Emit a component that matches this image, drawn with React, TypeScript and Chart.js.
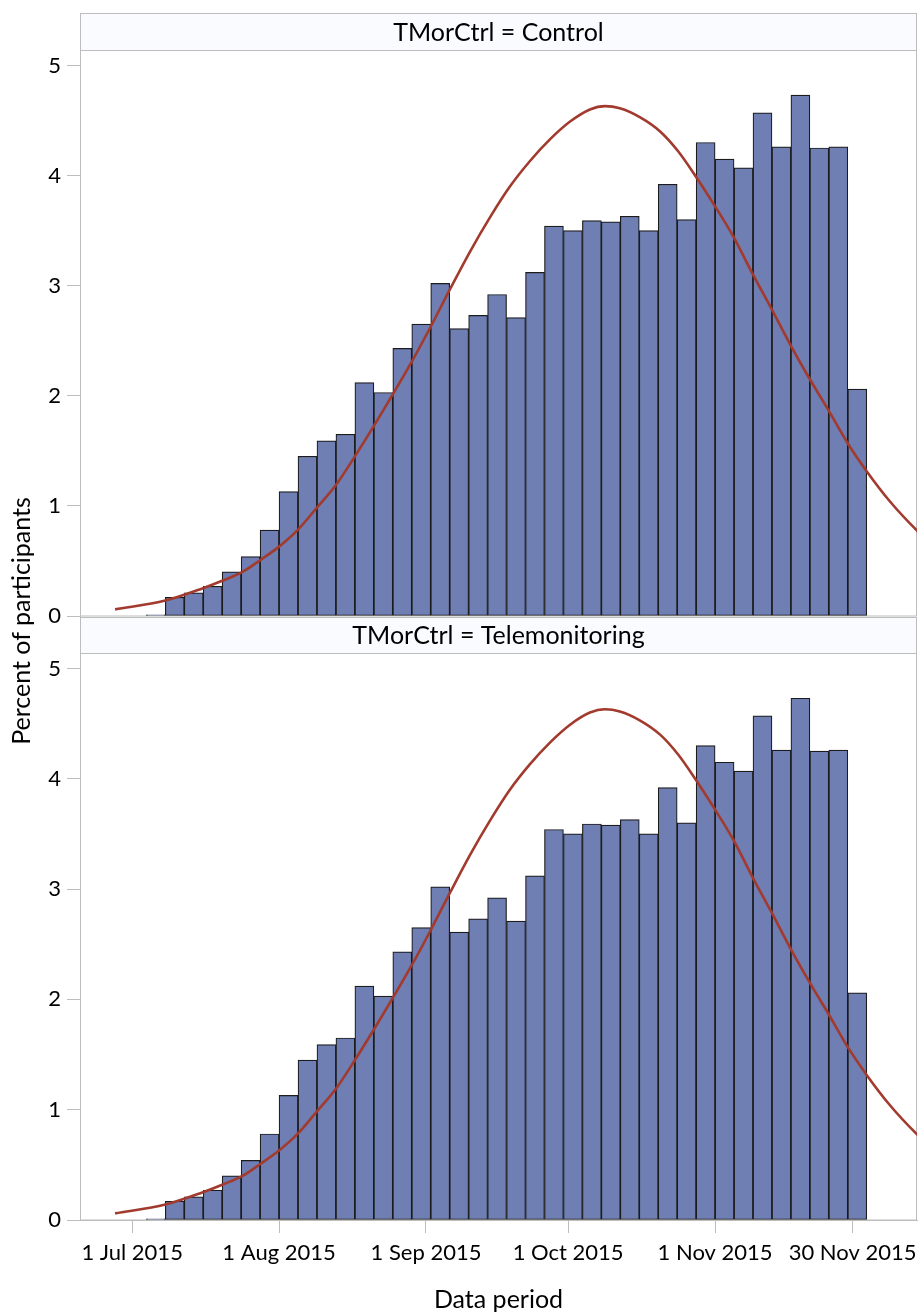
import React, { useEffect, useRef } from "react";
import { Chart, registerables } from "chart.js";

Chart.register(...registerables);

// ---- data (days are counted from 1 Jul 2015) ----
const binMidDays = [5, 9, 13, 17, 21, 25, 29, 33, 37, 41, 45, 49, 53, 57, 61, 65, 69, 73, 77, 81, 85, 89, 93, 97, 101, 105, 109, 113, 117, 121, 125, 129, 133, 137, 141, 145, 149, 153];
const controlPct = [0.01, 0.17, 0.21, 0.27, 0.4, 0.54, 0.78, 1.13, 1.45, 1.59, 1.65, 2.12, 2.03, 2.43, 2.65, 3.02, 2.61, 2.73, 2.92, 2.71, 3.12, 3.54, 3.5, 3.59, 3.58, 3.63, 3.5, 3.92, 3.6, 4.3, 4.15, 4.07, 4.57, 4.26, 4.73, 4.25, 4.26, 2.06];
const telemonitoringPct = [0.01, 0.17, 0.21, 0.27, 0.4, 0.54, 0.78, 1.13, 1.45, 1.59, 1.65, 2.12, 2.03, 2.43, 2.65, 3.02, 2.61, 2.73, 2.92, 2.71, 3.12, 3.54, 3.5, 3.59, 3.58, 3.63, 3.5, 3.92, 3.6, 4.3, 4.15, 4.07, 4.57, 4.26, 4.73, 4.25, 4.26, 2.06];
const curveDays = [-3.6, 7.0, 14.8, 19.0, 23.3, 27.1, 31.0, 34.9, 38.9, 43.0, 47.0, 51.9, 59.0, 62.9, 67.1, 71.3, 75.5, 79.7, 83.9, 88.2, 92.4, 96.6, 99.8, 102.9, 107.1, 111.4, 115.2, 119.1, 123.0, 126.8, 131.0, 134.9, 138.8, 143.0, 146.9, 151.1, 154.9, 159.9, 165.5, 167.0];
const curvePct = [0.06, 0.14, 0.25, 0.32, 0.4, 0.51, 0.63, 0.78, 0.98, 1.19, 1.45, 1.79, 2.31, 2.62, 2.97, 3.31, 3.62, 3.9, 4.13, 4.33, 4.49, 4.6, 4.63, 4.61, 4.53, 4.4, 4.22, 3.98, 3.72, 3.45, 3.1, 2.79, 2.47, 2.15, 1.87, 1.56, 1.32, 1.04, 0.78, 0.72];
const xTickDays = [0, 31, 62, 92, 123, 152];
const xTickLabels = ["1 Jul 2015", "1 Aug 2015", "1 Sep 2015", "1 Oct 2015", "1 Nov 2015", "30 Nov 2015"];
const yTicks = [0, 1, 2, 3, 4, 5];
const panelLabels = ["TMorCtrl = Control", "TMorCtrl = Telemonitoring"];
const xTitle = "Data period";
const yTitle = "Percent of participants";

const FONT = "Lato";
const TICK_SIZE = 22;
const TITLE_SIZE = 25;
const BAR_FILL = "#6F7EB3";
const BAR_EDGE = "#1c1c1c";
const CURVE = "#A23A2E";
const GRAY = "#BDBDBD";
const HEADER_FILL = "#FAFBFE";
const TEXT = "#000000";

const X_MIN = -11;
const X_MAX = 165.6;
const Y_MAX = 5.14;

function headerPlugin(label: string, y0: number) {
  return {
    id: "panelHeader",
    beforeDatasetsDraw(chart: any) {
      const { ctx, chartArea: a } = chart;
      ctx.save();
      ctx.fillStyle = HEADER_FILL;
      ctx.fillRect(a.left, y0, a.right - a.left, a.top - y0);
      ctx.strokeStyle = GRAY;
      ctx.lineWidth = 1;
      ctx.strokeRect(a.left + 0.5, y0 + 0.5, a.right - a.left - 1, a.top - y0);
      ctx.fillStyle = TEXT;
      ctx.font = `${TITLE_SIZE}px ${FONT}`;
      ctx.textAlign = "center";
      ctx.textBaseline = "middle";
      ctx.fillText(label, (a.left + a.right) / 2, (y0 + a.top) / 2 + 1);
      ctx.strokeStyle = GRAY;
      ctx.strokeRect(a.left + 0.5, a.top + 0.5, a.right - a.left - 1, a.bottom - a.top - 0.5);
      ctx.restore();
    },
  };
}

type PanelProps = {
  top: number;
  height: number;
  padTop: number;
  padBottom: number;
  headerY0: number;
  values: number[];
  label: string;
  showX: boolean;
};

function Panel({ top, height, padTop, padBottom, headerY0, values, label, showX }: PanelProps) {
  const ref = useRef<HTMLCanvasElement>(null);
  useEffect(() => {
    const font = { family: FONT, size: TICK_SIZE };
    const titleFont = { family: FONT, size: TITLE_SIZE };
    const chart = new Chart(ref.current as HTMLCanvasElement, {
      type: "bar",
      data: {
        datasets: [
          {
            type: "line",
            data: curveDays.map((d, i) => ({ x: d, y: curvePct[i] })),
            borderColor: CURVE,
            borderWidth: 2.6,
            pointRadius: 0,
            fill: false,
            cubicInterpolationMode: "monotone",
            order: 0,
          } as any,
          {
            type: "bar",
            data: binMidDays.map((d, i) => ({ x: d, y: values[i] })),
            backgroundColor: BAR_FILL,
            borderColor: BAR_EDGE,
            borderWidth: 1.2,
            borderSkipped: false,
            barPercentage: 1,
            categoryPercentage: 1,
            order: 1,
          } as any,
        ],
      },
      options: {
        animation: false,
        responsive: false,
        maintainAspectRatio: false,
        devicePixelRatio: 1,
        layout: { padding: { top: padTop, bottom: padBottom, left: 0, right: 2 } },
        plugins: { legend: { display: false }, tooltip: { enabled: false } },
        scales: {
          x: {
            type: "linear",
            display: showX,
            min: X_MIN,
            max: X_MAX,
            offset: false,
            afterBuildTicks: (axis: any) => {
              axis.ticks = xTickDays.map((v) => ({ value: v }));
            },
            afterFit: (axis: any) => {
              axis.height = showX ? 95 : 0;
              axis.paddingLeft = 0;
              axis.paddingRight = 0;
            },
            grid: { drawOnChartArea: false, drawTicks: true, tickLength: 13, color: GRAY, offset: false },
            border: { display: true, color: GRAY },
            ticks: {
              font,
              color: TEXT,
              padding: 7,
              maxRotation: 0,
              autoSkip: false,
              callback: (v: any) => {
                const i = xTickDays.indexOf(Number(v));
                return i >= 0 ? xTickLabels[i] : "";
              },
            },
            title: { display: true, text: xTitle, font: titleFont, color: TEXT, padding: { top: 0, bottom: 0 } },
          },
          y: {
            type: "linear",
            min: 0,
            max: Y_MAX,
            afterBuildTicks: (axis: any) => {
              axis.ticks = yTicks.map((v) => ({ value: v }));
            },
            afterFit: (axis: any) => {
              axis.width = 80;
              axis.paddingTop = 0;
              axis.paddingBottom = 0;
            },
            grid: { drawOnChartArea: false, drawTicks: true, tickLength: 13, color: GRAY },
            border: { display: true, color: GRAY },
            ticks: { font, color: TEXT, padding: 6 },
          },
        },
      } as any,
      plugins: [headerPlugin(label, headerY0)],
    });
    return () => chart.destroy();
  }, []);
  return (
    <canvas
      ref={ref}
      width={919}
      height={height}
      style={{ position: "absolute", left: 0, top, width: 919, height }}
    />
  );
}

export default function App() {
  return (
    <div
      style={{
        position: "absolute",
        left: 0,
        top: 0,
        width: 919,
        height: 1315,
        background: "#ffffff",
        overflow: "hidden",
      }}
    >
      <Panel top={0} height={634} padTop={50} padBottom={18} headerY0={13} values={controlPct} label={panelLabels[0]} showX={false} />
      <Panel top={617} height={698} padTop={36} padBottom={0} headerY0={0} values={telemonitoringPct} label={panelLabels[1]} showX={true} />
      <div
        style={{
          position: "absolute",
          left: 20 - 200,
          top: 621 - 15,
          width: 400,
          height: 30,
          lineHeight: "30px",
          textAlign: "center",
          transform: "rotate(-90deg)",
          fontFamily: FONT,
          fontSize: TITLE_SIZE,
          color: TEXT,
          whiteSpace: "nowrap",
        }}
      >
        {yTitle}
      </div>
    </div>
  );
}
